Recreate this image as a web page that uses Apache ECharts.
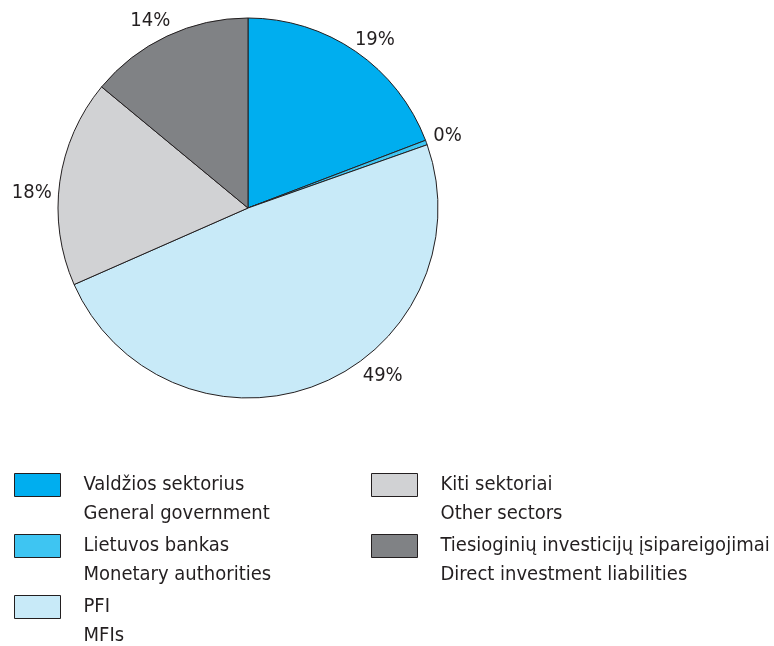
<!DOCTYPE html>
<html>
<head>
<meta charset="utf-8">
<script src="https://cdn.jsdelivr.net/npm/echarts@6/dist/echarts.min.js"></script>
<style>
  html, body { margin: 0; padding: 0; background: #fff; }
  #chart { width: 774px; height: 646px; }
</style>
</head>
<body>
<div id="chart"></div>
<script>
// sector names (lt) and english subtitles
const namesLt = ['Valdžios sektorius', 'Lietuvos bankas', 'PFI', 'Kiti sektoriai', 'Tiesioginių investicijų įsipareigojimai']
const namesEn = ['General government', 'Monetary authorities', 'MFIs', 'Other sectors', 'Direct investment liabilities']
const shares = [19.2, 0.4, 48.8, 17.6, 14.0]
const colors = ['#00AEEF', '#3EC5F2', '#C8EAF8', '#D1D2D4', '#808285']

const font = '"DejaVu Sans Condensed", "Liberation Sans Narrow", sans-serif'
const ink = '#231F20'

let myChart = echarts.init(document.getElementById('chart'), null, { renderer: 'canvas' })

// icon box 46x23 inside a 64x51 item so the text sits right of it, top line aligned
const legendIcon = 'path://M0,0H46V23H0Z M64,51'

// label nudges so the percentages sit like in the print version
const labelNudge = [[-7, -10], [0, -6], [39, -11], [-1, 11], [9, -13]]

function legendFmt(name) {
  let i = namesLt.indexOf(name)
  return name + '\n' + namesEn[i]
}

let legendBase = {
  orient: 'vertical',
  icon: legendIcon,
  itemWidth: 64,
  itemHeight: 51,
  itemGap: 3,
  padding: 0,
  height: 200,
  selectedMode: false,
  formatter: legendFmt,
  itemStyle: { borderColor: ink, borderWidth: 1 },
  textStyle: { fontFamily: font, fontSize: 20, lineHeight: 29, color: ink }
}

let option = {
  animation: false,
  backgroundColor: '#fff',
  legend: [
    Object.assign({}, legendBase, { left: 14, top: 470, data: namesLt.slice(0, 3) }),
    Object.assign({}, legendBase, { left: 371, top: 470, data: namesLt.slice(3) })
  ],
  series: [
    {
      type: 'pie',
      center: [248, 208],
      radius: 190,
      startAngle: 90,
      clockwise: true,
      avoidLabelOverlap: false,
      itemStyle: { borderColor: ink, borderWidth: 1 },
      label: {
        position: 'outside',
        fontFamily: font,
        fontSize: 20,
        color: ink,
        formatter: function(p) {
          return Math.round(p.percent) + '%'
        }
      },
      labelLine: { show: false, length: 2, length2: 0 },
      emphasis: { disabled: true },
      data: namesLt.map(function(n, i) {
        return {
          name: n,
          value: shares[i],
          itemStyle: { color: colors[i] },
          label: { offset: labelNudge[i] }
        }
      })
    }
  ]
}

myChart.setOption(option)
</script>
</body>
</html>
